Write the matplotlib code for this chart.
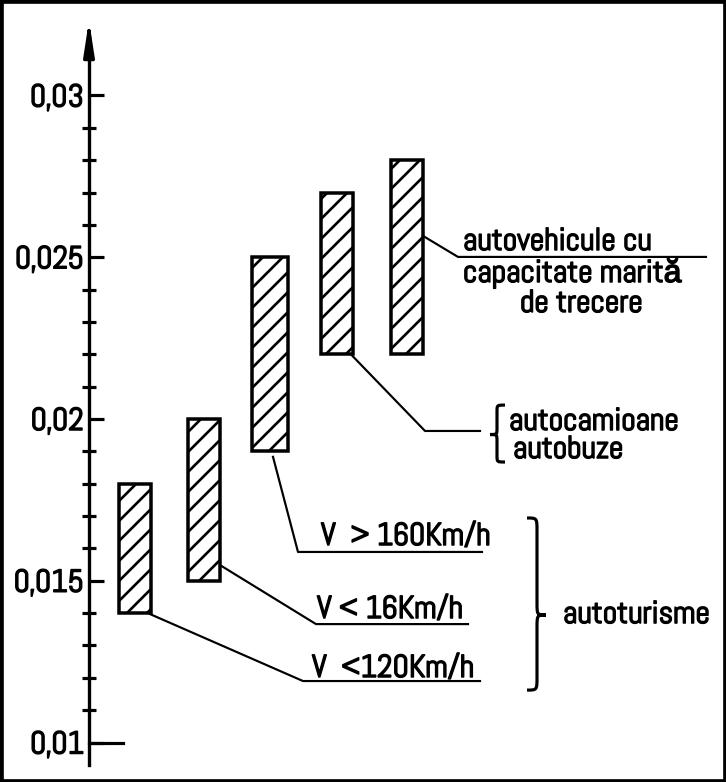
import matplotlib
matplotlib.use('Agg')
import matplotlib.pyplot as plt
import matplotlib.patheffects as pe
import numpy as np
from matplotlib.path import Path
from matplotlib.patches import PathPatch, Rectangle

plt.rcParams['font.family'] = ['Abel', 'Liberation Sans', 'DejaVu Sans']
plt.rcParams['hatch.linewidth'] = 1.6

# valori (coeficient)
categorii = ['V < 120Km/h', 'V < 16Km/h', 'V > 160Km/h',
             'autocamioane, autobuze', 'autovehicule cu capacitate marita de trecere']
minim = [0.014, 0.015, 0.019, 0.022, 0.022]
maxim = [0.018, 0.020, 0.025, 0.027, 0.028]

ticks_major = [0.01, 0.015, 0.02, 0.025, 0.03]
ticks_text = ['0,01', '0,015', '0,02', '0,025', '0,03']
ticks_minor = [0.011, 0.012, 0.013, 0.014, 0.016, 0.017, 0.018, 0.019,
               0.021, 0.022, 0.023, 0.024, 0.026, 0.027, 0.028, 0.029]

# pozitii (in "pixeli" pe orizontala)
pos_x = [135, 203.5, 270, 336.5, 406.5]
latimi = [32, 32, 36, 32, 32]
ax_x = 89
fs = 19
gros = [pe.withStroke(linewidth=0.9, foreground='black')]

fig = plt.figure(figsize=(726 / 120, 782 / 120), dpi=120)
ax = fig.add_axes([0, 0, 1, 1])
ax.set_xlim(0, 726)
ax.set_ylim(0.008779, 0.032952)

for s in ['top', 'right', 'bottom']:
    ax.spines[s].set_visible(False)
ax.spines['left'].set_position(('data', ax_x))
ax.spines['left'].set_bounds(0.00931, 0.0318)
ax.spines['left'].set_linewidth(2)

ax.set_xticks([])
ax.set_yticks(ticks_major, ticks_text)
ax.set_yticks(ticks_minor, minor=True)
ax.tick_params(axis='y', which='major', direction='in', length=9, width=1.9,
               pad=3, labelsize=fs)
ax.tick_params(axis='y', which='minor', direction='inout', length=8, width=1.9)
for t in ax.get_yticklabels():
    t.set_path_effects(gros)

# sageata axei
ax.annotate('', xy=(ax_x, 0.03243), xytext=(ax_x, 0.0316),
            arrowprops=dict(arrowstyle='-|>,head_length=0.85,head_width=0.13',
                            color='black', lw=2, mutation_scale=20))
# linie mai lunga la 0,01
ax.plot([ax_x, 123], [ticks_major[0]] * 2, color='black', lw=1.9)

ax.bar(pos_x, np.subtract(maxim, minim), bottom=minim, width=latimi,
       facecolor='white', edgecolor='black', hatch='//', linewidth=2.1, zorder=3)


def acolada(x0, xs, xt, y0, y1, ym, r):
    # acolada: capete la x0, tija la xs, varf la xt
    verts = [(x0, y1), (xs, y1), (xs, y1), (xs, y1 - r),
             (xs, ym + r),
             (xs, ym), (xs, ym), (xt, ym),
             (xs, ym), (xs, ym), (xs, ym - r),
             (xs, y0 + r),
             (xs, y0), (xs, y0), (x0, y0)]
    codes = [Path.MOVETO, Path.CURVE4, Path.CURVE4, Path.CURVE4,
             Path.LINETO,
             Path.CURVE4, Path.CURVE4, Path.CURVE4,
             Path.CURVE4, Path.CURVE4, Path.CURVE4,
             Path.LINETO,
             Path.CURVE4, Path.CURVE4, Path.CURVE4]
    ax.add_patch(PathPatch(Path(verts, codes), fill=False, lw=1.9, color='black'))


def scrie(x, y, s, **kw):
    ax.text(x, y, s, fontsize=fs, va='baseline', path_effects=gros, **kw)


lw_l = 1.3
# autovehicule cu capacitate marita
ax.plot([423, 458, 706], [0.02566, 0.02501, 0.02501], color='black', lw=lw_l)
scrie(463, 0.025224, 'autovehicule cu')
scrie(463, 0.024235, 'capacitate marită')
scrie(581, 0.023308, 'de trecere', ha='center')

# autocamioane, autobuze
ax.plot([344, 425, 480], [0.02222, 0.01963, 0.01963], color='black', lw=lw_l)
acolada(505, 497, 490, 0.01867, 0.02043, 0.01952, 0.0002)
scrie(509, 0.01966, 'autocamioane')
scrie(513, 0.018794, 'autobuze')

# autoturisme
ax.plot([273, 298, 482], [0.01883, 0.01589, 0.01589], color='black', lw=lw_l)
scrie(321, 0.016105, 'V  > 160Km/h')
ax.plot([215, 316, 468], [0.01558, 0.01366, 0.01366], color='black', lw=lw_l)
scrie(317, 0.013848, 'V < 16Km/h')
ax.plot([150, 303, 480], [0.01397, 0.0119, 0.0119], color='black', lw=lw_l)
scrie(312, 0.012025, 'V  <120Km/h')

acolada(527, 537, 546, 0.01162, 0.01694, 0.01394, 0.0004)
scrie(563, 0.013693, 'autoturisme')

fig.add_artist(Rectangle((0, 0), 1, 1, transform=fig.transFigure, fill=False,
                         edgecolor='black', lw=4))

fig.savefig('out.png', dpi=120)
